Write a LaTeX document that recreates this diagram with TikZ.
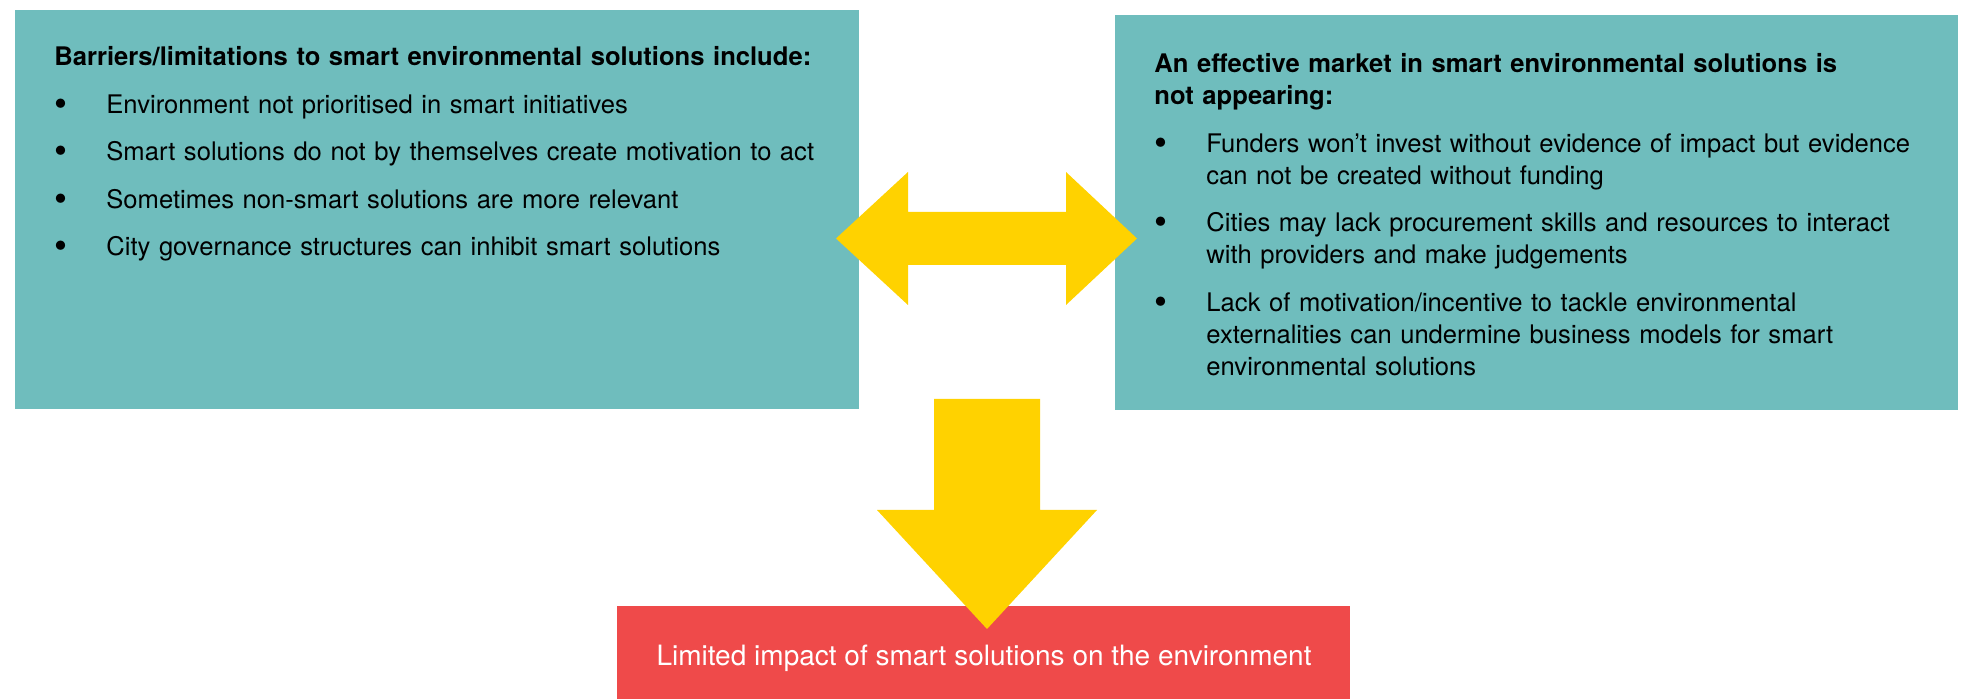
\documentclass[tikz,border=0pt]{standalone}
\usepackage{fontspec}
\setmainfont{TeX Gyre Heros}
\usetikzlibrary{positioning}

\definecolor{boxteal}{HTML}{6FBDBD}
\definecolor{arrowyellow}{HTML}{FFD200}
\definecolor{boxred}{HTML}{EF4A4A}

\newcommand{\listfont}{\fontsize{12.8}{16}\selectfont\setlength{\parskip}{7.75pt}}
\newcommand{\bpoint}[1]{\par\hangindent=26pt\hangafter=1%
    \makebox[26pt][l]{\raisebox{-1.6pt}{\scalebox{1.45}{\textbullet}}}#1\par}

\begin{document}
\begin{tikzpicture}[x=0.5pt,y=-0.5pt,
    box node/.style={fill=boxteal,inner sep=0pt,anchor=north west},
    list node/.style={inner sep=0pt,anchor=north west,text width=400pt,align=left,font=\listfont},
    block arrow/.style={fill=arrowyellow}]

    \useasboundingbox (0,0) rectangle (1966,699);

    \node[box node,minimum width=422pt,minimum height=199.5pt] (1) at (15,10) {};
    \node[box node,minimum width=421.5pt,minimum height=197.5pt] (2) at (1115,15) {};
    \node[fill=boxred,inner sep=0pt,anchor=north west,minimum width=366.5pt,minimum height=46.5pt] (3) at (617,606) {};

    \node[list node] (1t) at ([shift={(39,33)}]1.north west) {\strut\textbf{Barriers/limitations to smart environmental solutions include:}
        \bpoint{Environment not prioritised in smart initiatives}
        \bpoint{Smart solutions do not by themselves create motivation to act}
        \bpoint{Sometimes non-smart solutions are more relevant}
        \bpoint{City governance structures can inhibit smart solutions}};

    \node[list node] (2t) at ([shift={(39,35)}]2.north west) {\strut\textbf{An effective market in smart environmental solutions is\newline not appearing:}
        \bpoint{Funders won’t invest without evidence of impact but evidence\newline can not be created without funding}
        \bpoint{Cities may lack procurement skills and resources to interact\newline with providers and make judgements}
        \bpoint{Lack of motivation/incentive to tackle environmental\newline externalities can undermine business models for smart\newline environmental solutions}};

    % arrows between the boxes
    \fill[block arrow] (836,238.5) -- (908,172) -- (908,212) -- (1066,212) -- (1066,172) -- (1137,238.5)
        -- (1066,305) -- (1066,265) -- (908,265) -- (908,305) -- cycle;
    \fill[block arrow] (934,399) -- (1040,399) -- (1040,510) -- (1097,510) -- (987,629) -- (877,510) -- (934,510) -- cycle;

    \node[font=\fontsize{14}{16}\selectfont,text=white,anchor=base,inner sep=0pt] (3t) at (984,666) {Limited impact of smart solutions on the environment};
\end{tikzpicture}
\end{document}
